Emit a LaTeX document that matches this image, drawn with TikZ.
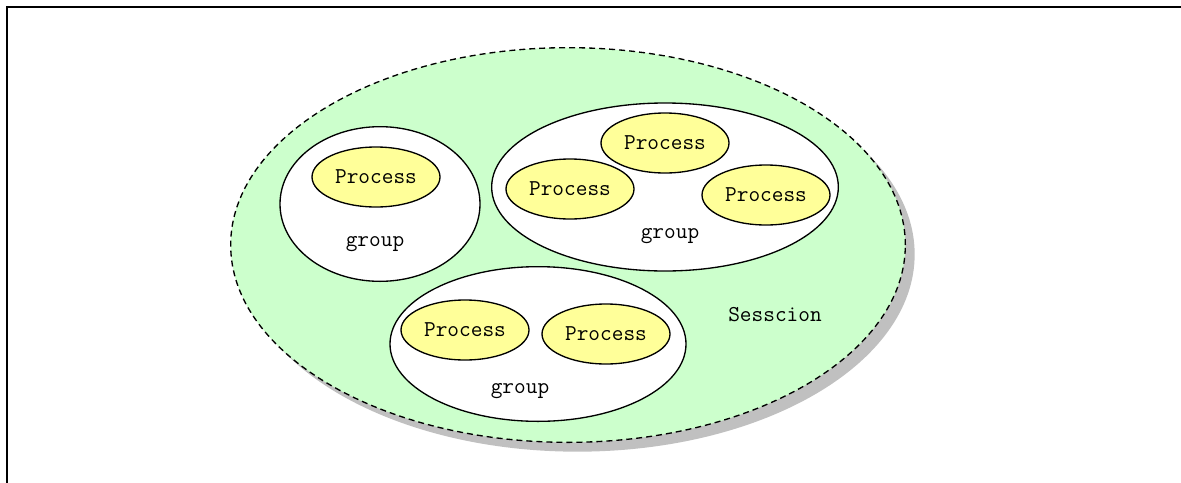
\documentclass[tikz,border=0pt]{standalone}
\usepackage{tikz}
\usetikzlibrary{shapes.geometric,shadows}

\definecolor{sessgreen}{HTML}{CCFFCC}
\definecolor{procyellow}{HTML}{FFFF99}
\definecolor{shadowgray}{HTML}{C0C0C0}

\tikzset{
  txt/.style={font=\ttfamily\fontsize{17}{20}\selectfont},
  sessbox/.style={ellipse, draw, dash pattern=on 4.5pt off 3pt, line width=1pt, fill=sessgreen,
    drop shadow={shadow xshift=7pt, shadow yshift=-7pt, fill=shadowgray, opacity=1}},
  groupbox/.style={ellipse, draw, line width=1pt, fill=white, inner sep=0pt},
  procbox/.style={ellipse, draw, line width=1pt, fill=procyellow, inner sep=0pt,
    minimum width=96pt, minimum height=45pt, txt}
}

\begin{document}
\begin{tikzpicture}[x=0.75pt, y=-0.75pt]
  \useasboundingbox (0,0) rectangle (1181,482);
  % frame
  \draw[line width=2.2pt] (7,7) rectangle (1250,550);

  % session
  \node[sessbox, minimum width=506pt, minimum height=296pt] (sess) at (568,245) {};
  \node[txt] (sesslbl) at (775,315) {Sesscion};

  % groups
  \node[groupbox, minimum width=150pt, minimum height=116pt] (g1) at (380,204) {};
  \node[groupbox, minimum width=260pt, minimum height=126pt] (g2) at (665,187) {};
  \node[groupbox, minimum width=222pt, minimum height=116pt] (g3) at (538,344) {};

  \node[txt] (g1lbl) at (375,244) {group};
  \node[txt] (g2lbl) at (670,236) {group};
  \node[txt] (g3lbl) at (520,391) {group};

  % processes
  \node[procbox] (p1) at (376,177) {Process};

  \node[procbox] (p2) at (665,143) {Process};
  \node[procbox] (p3) at (570,189) {Process};
  \node[procbox] (p4) at (766,195) {Process};

  \node[procbox] (p5) at (465,330) {Process};
  \node[procbox] (p6) at (606,334) {Process};
\end{tikzpicture}
\end{document}
